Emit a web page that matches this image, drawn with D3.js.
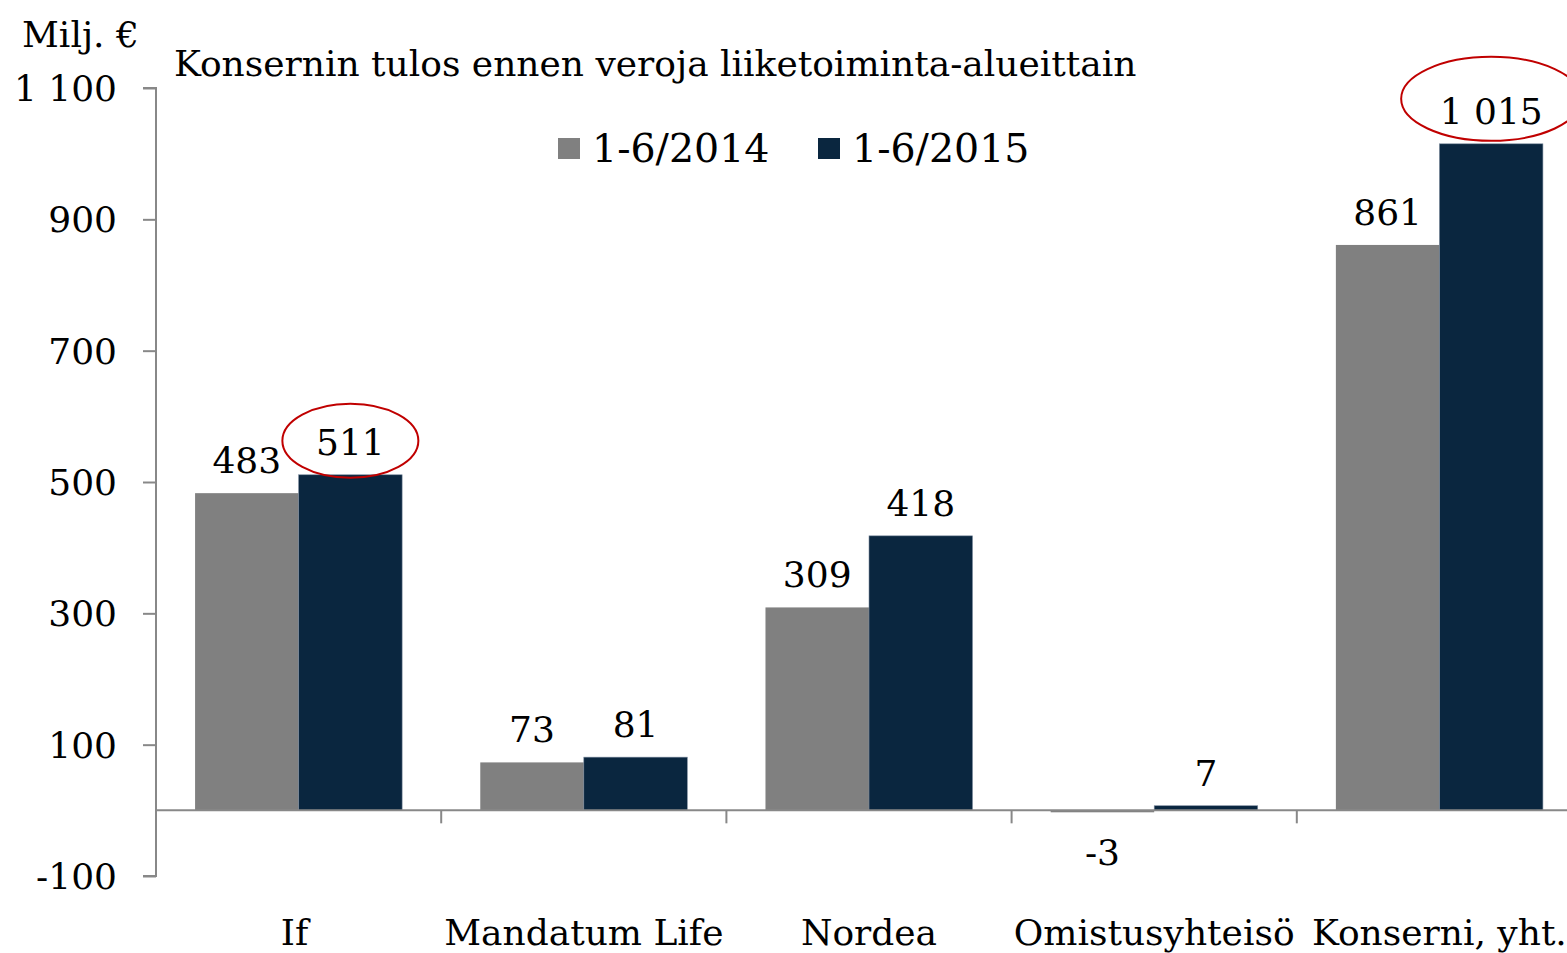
<!DOCTYPE html>
<html>
<head>
<meta charset="utf-8">
<script src="https://cdnjs.cloudflare.com/ajax/libs/d3/7.8.5/d3.min.js"></script>
<style>
  body { margin: 0; background: #fff; }
  text { font-family: "DejaVu Serif", "Liberation Serif", serif; fill: #000; }
</style>
</head>
<body>
<div id="chart"></div>
<script>
var categories = ["If", "Mandatum Life", "Nordea", "Omistusyhteisö", "Konserni, yht."];
var seriesNames = ["1-6/2014", "1-6/2015"];
var values2014 = [483, 73, 309, -3, 861];
var values2015 = [511, 81, 418, 7, 1015];
var tickValues = [-100, 100, 300, 500, 700, 900, 1100];
var highlighted = [[0, 1], [4, 1]]; // [category, series] with red ellipse

var width = 1567, height = 953;
var colors = ["#808080", "#0a263f"];

var fmt = function(v) {
  return d3.format(",")(v).replace(/,/g, " ").replace("\u2212", "-");
};

var svg = d3.select("#chart").append("svg")
  .attr("width", width)
  .attr("height", height);

var x = d3.scaleBand().domain(categories).range([156, 1582]).paddingInner(0).paddingOuter(0);
var inner = d3.scaleBand().domain([0, 1]).range([x.bandwidth() * 0.137, x.bandwidth() * 0.863]);
var y = d3.scaleLinear().domain([-100, 1100]).range([876, 88]);

// y axis
var yAxis = svg.append("g").attr("transform", "translate(156,0)")
  .call(d3.axisLeft(y).tickValues(tickValues).tickSize(13).tickPadding(26).tickFormat(fmt));
yAxis.select(".domain").attr("stroke", "#888").attr("stroke-width", 2).attr("d", "M-13," + y(1100) + "H0V" + y(-100) + "H-13");
yAxis.selectAll(".tick line").attr("stroke", "#888").attr("stroke-width", 2);
yAxis.selectAll(".tick text").style("font-size", "36px").attr("dy", "0.35em");

// data
var rows = categories.map(function(c, i) {
  return { cat: c, vals: [values2014[i], values2015[i]], idx: i };
});

var groups = svg.selectAll(".grp").data(rows).enter().append("g")
  .attr("class", "grp")
  .attr("transform", function(d) { return "translate(" + x(d.cat) + ",0)"; });

groups.selectAll("rect").data(function(d) { return d.vals.map(function(v, s) { return { v: v, s: s }; }); })
  .enter().append("rect")
  .attr("x", function(d) { return inner(d.s); })
  .attr("width", inner.bandwidth())
  .attr("y", function(d) { return y(Math.max(0, d.v)); })
  .attr("height", function(d) { return Math.max(Math.abs(y(d.v) - y(0)), 1.5); })
  .attr("fill", function(d) { return colors[d.s]; })
  .attr("stroke", function(d) { return d.s === 1 ? "#7f8ea0" : "none"; })
  .attr("stroke-width", 0.6);

groups.selectAll(".lbl").data(function(d) { return d.vals.map(function(v, s) { return { v: v, s: s }; }); })
  .enter().append("text")
  .attr("class", "lbl")
  .attr("text-anchor", "middle")
  .attr("x", function(d) { return inner(d.s) + inner.bandwidth() / 2; })
  .attr("y", function(d) { return d.v >= 0 ? y(d.v) - 20 : y(d.v) + 53; })
  .style("font-size", "36px")
  .text(function(d) { return fmt(d.v); });

// x axis
var xAxis = svg.append("g").attr("transform", "translate(0," + y(0) + ")");
xAxis.append("line").attr("x1", 156).attr("x2", width).attr("stroke", "#888").attr("stroke-width", 2);
xAxis.selectAll(".xt").data(categories.slice(1)).enter().append("line")
  .attr("x1", function(d) { return x(d); }).attr("x2", function(d) { return x(d); })
  .attr("y1", 0).attr("y2", 13).attr("stroke", "#888").attr("stroke-width", 2);
svg.selectAll(".xl").data(categories).enter().append("text")
  .attr("text-anchor", "middle")
  .attr("x", function(d, i) { return x(d) + x.bandwidth() / 2 - (i === 0 ? 4 : 0); })
  .attr("y", 945)
  .style("font-size", "36px")
  .text(function(d) { return d; });

// ellipses
highlighted.forEach(function(h) {
  var v = (h[1] === 0 ? values2014 : values2015)[h[0]];
  var cx = x(categories[h[0]]) + inner(h[1]) + inner.bandwidth() / 2;
  var big = v >= 1000;
  svg.append("ellipse")
    .attr("cx", cx)
    .attr("cy", y(v) - (big ? 45 : 34))
    .attr("rx", big ? 90 : 68)
    .attr("ry", big ? 42 : 37)
    .attr("fill", "none")
    .attr("stroke", "#c00000")
    .attr("stroke-width", 2);
});

// titles
svg.append("text").attr("x", 22).attr("y", 47).style("font-size", "36px").text("Milj. €");
svg.append("text").attr("x", 174).attr("y", 76).style("font-size", "36px").text("Konsernin tulos ennen veroja liiketoiminta-alueittain");

// legend
var legend = svg.selectAll(".leg").data(seriesNames).enter().append("g")
  .attr("transform", function(d, i) { return "translate(" + (558 + i * 260) + ",138)"; });
legend.append("rect").attr("width", 22).attr("height", 21).attr("fill", function(d, i) { return colors[i]; });
legend.append("text").attr("x", 34).attr("y", 24).style("font-size", "39.5px").text(function(d) { return d; });
</script>
</body>
</html>
